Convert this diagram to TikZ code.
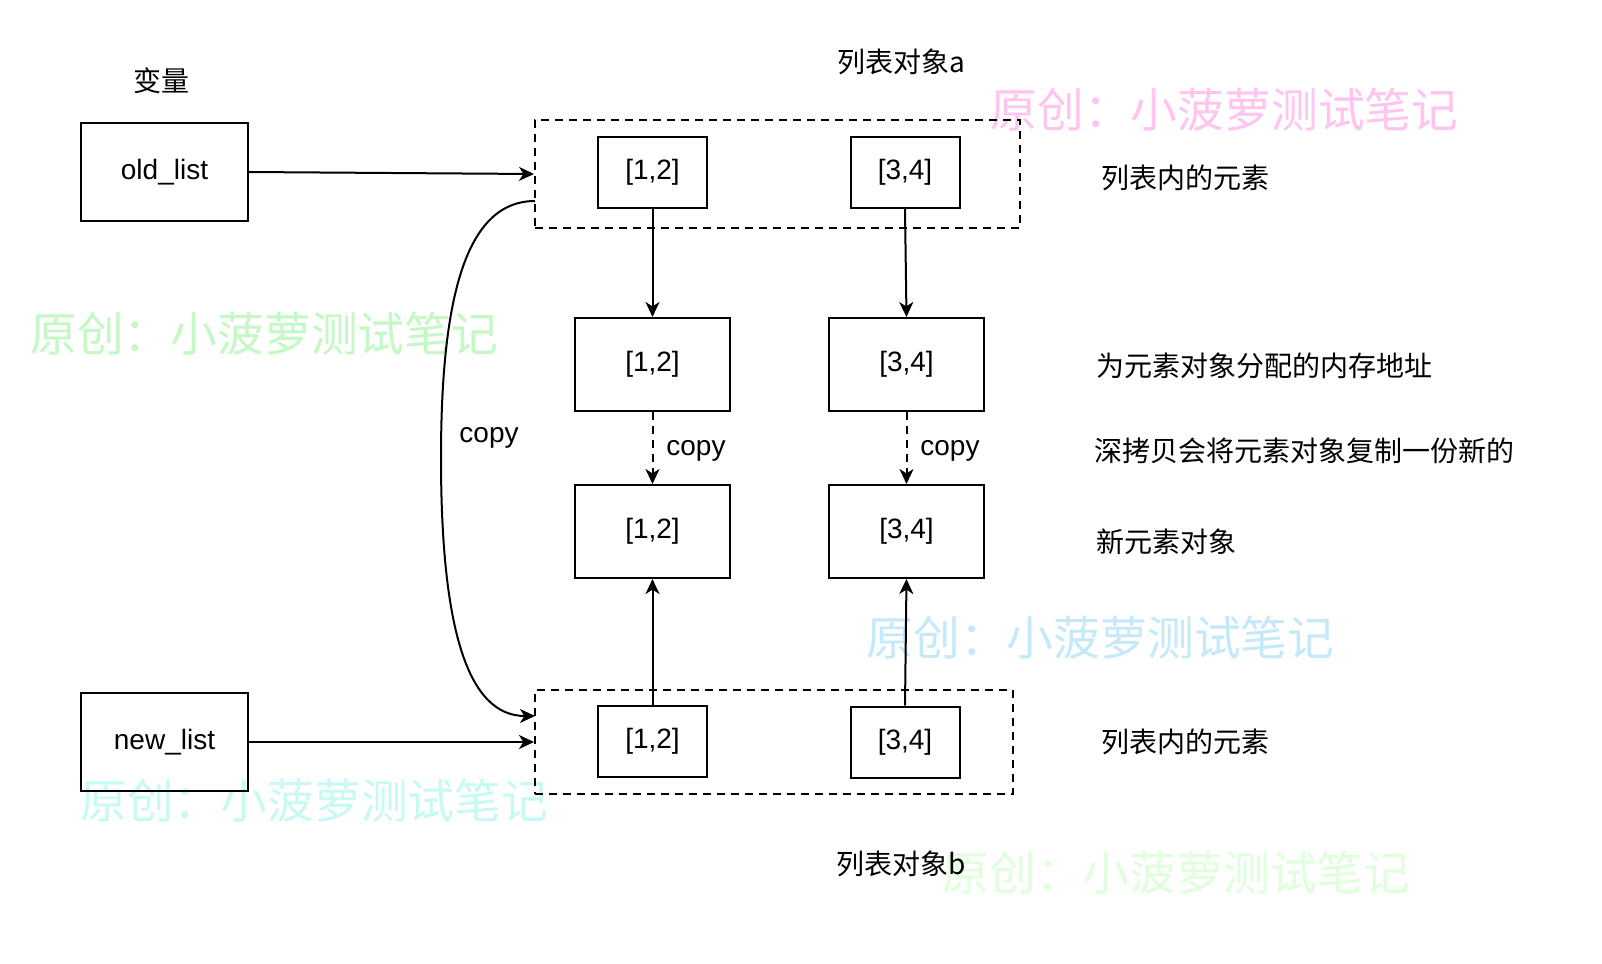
\documentclass[tikz,border=0pt]{standalone}
\usepackage{fontspec}
\setmainfont{Liberation Sans}
\newfontfamily\cjk{Noto Sans CJK SC}
\usetikzlibrary{arrows.meta}
\definecolor{wmpink}{RGB}{255,196,240}
\definecolor{wmgreen}{RGB}{196,248,196}
\definecolor{wmblue}{RGB}{196,234,250}
\definecolor{wmcyan}{RGB}{200,250,244}
\definecolor{wmgreenb}{RGB}{224,255,220}
\tikzset{
  x=0.5pt, y=-0.5pt,
  box/.style={draw, line width=1pt, inner sep=0pt, font=\fontsize{14pt}{16pt}\selectfont},
  varbox/.style={box, minimum width=83.5pt, minimum height=49pt},
  smallbox/.style={box, minimum width=54.5pt, minimum height=35.5pt},
  bigbox/.style={box, minimum width=77.5pt, minimum height=46.5pt},
  container/.style={draw, line width=1pt, dash pattern=on 4pt off 3pt, inner sep=0pt},
  lbl/.style={inner sep=0pt, font=\fontsize{14pt}{16pt}\selectfont},
  cjklbl/.style={inner sep=0pt, font=\cjk\fontsize{14pt}{16pt}\selectfont},
  wm/.style={inner sep=0pt, anchor=west, font=\cjk\fontsize{23.4pt}{26pt}\selectfont},
  conn/.style={line width=1pt, -{Stealth[length=7.5pt, width=7pt, inset=2.2pt]}},
}
\begin{document}
\begin{tikzpicture}
\useasboundingbox[fill=white] (0,0) rectangle (1602,964);
% watermarks
\node[wm, text=wmpink] (w1) at (990,110) {原创：小菠萝测试笔记};
\node[wm, text=wmgreen] (w2) at (30,334) {原创：小菠萝测试笔记};
\node[wm, text=wmblue] (w3) at (866,638) {原创：小菠萝测试笔记};
\node[wm, text=wmcyan] (w4) at (80,801) {原创：小菠萝测试笔记};
\node[wm, text=wmgreenb] (w5) at (942,873) {原创：小菠萝测试笔记};
% containers
\node[container, minimum width=242.5pt, minimum height=54pt] (ta) at (777.5,174) {};
\node[container, minimum width=239pt, minimum height=52pt] (tb) at (774,742) {};
% variable boxes
\node[varbox] (old) at (164.5,172) {old\_list};
\node[varbox] (new) at (164.5,742) {new\_list};
% list elements
\node[smallbox] (t1) at (652.5,172.5) {[1,2]};
\node[smallbox] (t2) at (905,172.5) {[3,4]};
\node[smallbox] (b1) at (652.5,741) {[1,2]};
\node[smallbox] (b2) at (905,742) {[3,4]};
% memory objects
\node[bigbox] (m1) at (652.5,364.5) {[1,2]};
\node[bigbox] (m2) at (906.5,364.5) {[3,4]};
\node[bigbox] (n1) at (652.5,531.5) {[1,2]};
\node[bigbox] (n2) at (906.5,531.5) {[3,4]};
% labels
\node[cjklbl] (lv) at (161,81) {变量};
\node[cjklbl] (la) at (901,62) {列表对象a};
\node[cjklbl] (lb) at (901,864) {列表对象b};
\node[cjklbl, anchor=west] (r1) at (1101,178) {列表内的元素};
\node[cjklbl, anchor=west] (r2) at (1096,366) {为元素对象分配的内存地址};
\node[cjklbl, anchor=west] (r3) at (1094,451) {深拷贝会将元素对象复制一份新的};
\node[cjklbl, anchor=west] (r4) at (1096,542) {新元素对象};
\node[cjklbl, anchor=west] (r5) at (1101,742) {列表内的元素};
\node[lbl] (c0) at (489,438) {copy};
\node[lbl, anchor=west] (c1) at (666,451) {copy};
\node[lbl, anchor=west] (c2) at (920,451) {copy};
% connectors
\coordinate (cs) at (535,201);
\coordinate (ce) at (535,716);
\draw[conn] (old.east) -- (ta.west);
\draw[conn] (new.east) -- (tb.west);
\draw[conn] (cs) .. controls (465,201) and (441,300) .. (441,458) .. controls (441,630) and (468,716) .. (ce);
\draw[conn] (t1.south) -- (m1.north);
\draw[conn] (t2.south) -- (m2.north);
\draw[conn, dash pattern=on 4pt off 3pt] (m1.south) -- (n1.north);
\draw[conn, dash pattern=on 4pt off 3pt] (m2.south) -- (n2.north);
\draw[conn] (b1.north) -- (n1.south);
\draw[conn] (b2.north) -- (n2.south);
\end{tikzpicture}
\end{document}
